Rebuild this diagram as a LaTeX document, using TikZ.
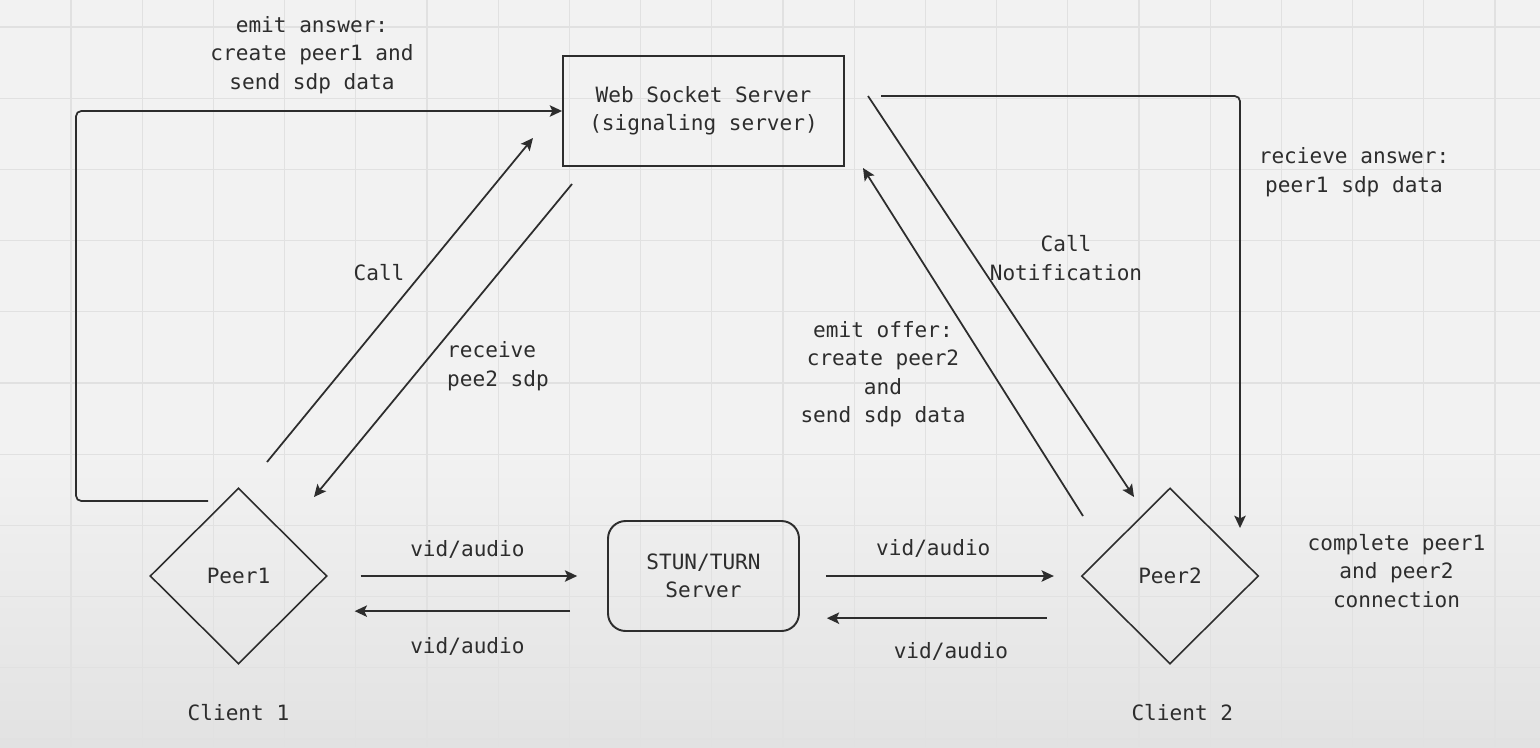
\documentclass[tikz,border=0pt]{standalone}
\usepackage{fontspec}
\newfontfamily\diagfont{DejaVu Sans Mono}
\usetikzlibrary{arrows.meta, positioning, shapes.geometric}
\def\gridstep{71.2}
\definecolor{bgtop}{RGB}{242,242,242}
\definecolor{bgbot}{RGB}{226,226,226}
\definecolor{gridcol}{RGB}{225,225,225}
\definecolor{inkcol}{RGB}{45,45,45}

\begin{document}
\begin{tikzpicture}[x=0.02cm, y=-0.02cm, >=Stealth]

  \tikzset{
    lbl/.style = {
      font=\diagfont\fontsize{12}{16.2}\selectfont, text=inkcol, align=center
    },
    serverbox/.style = {
      lbl, rectangle, draw=inkcol, line width=1.1pt,
      minimum width=5.62cm, minimum height=2.2cm
    },
    relaybox/.style = {
      serverbox, rounded corners=10pt,
      minimum width=3.82cm
    },
    peernode/.style = {
      lbl, diamond, draw=inkcol, line width=0.9pt, inner sep=0pt,
      minimum width=3.54cm, minimum height=3.52cm
    },
    flow/.style = {
      -{Stealth[length=7pt, width=6.5pt, inset=1.5pt]}, line width=1pt, draw=inkcol
    },
    gridline/.style = {
      draw=gridcol, line width=0.6pt
    }
  }

  % --- Canvas and grid --------------------------------------------------------
  \useasboundingbox (0,0) rectangle (1540,747);
  \fill [bgtop] (0,0) rectangle (1540,747);
  \shade [top color=bgtop, bottom color=bgbot] (0,450) rectangle (1540,747);
  \foreach \i in {0,...,20}
    \draw [gridline] (71+\i*\gridstep,0) -- (71+\i*\gridstep,747);
  \foreach \j in {0,...,10}
    \draw [gridline] (0,27+\j*\gridstep) -- (1540,27+\j*\gridstep);

  % --- Servers and peers ------------------------------------------------------
  \node (ws)    [serverbox] at (703.5,111) {Web Socket Server\\(signaling server)};
  \node (stun)  [relaybox]  at (703.5,576) {STUN/TURN\\Server};
  \node (peer1) [peernode]  at (238.5,576) {Peer1};
  \node (peer2) [peernode]  at (1170,576)  {Peer2};

  \node (client1) [lbl, below=19pt of peer1] {Client 1};
  \node (client2) [lbl, below=19pt of peer2, xshift=7pt] {Client 2};
  \node (done)    [lbl, right=24pt of peer2, yshift=3pt]
    {complete peer1\\and peer2\\connection};

  % --- Free ends of the signaling connectors ----------------------------------
  \coordinate (ansS)   at (208,501);
  \coordinate (callS)  at (267,462);
  \coordinate (callE)  at (533,138);
  \coordinate (recvS)  at (572,184);
  \coordinate (recvE)  at (314,497);
  \coordinate (notifS) at (868,96);
  \coordinate (notifE) at (1134,497);
  \coordinate (offerS) at (1083,516);
  \coordinate (offerE) at (863,168);
  \coordinate (ans2S)  at (881,96);
  \coordinate (ans2E)  at (1240,528);

  % --- Signaling edges --------------------------------------------------------
  \draw [flow, rounded corners=3pt] (ansS) -- (76,501) |- (ws.west);
  \draw [flow] (callS)  -- (callE);
  \draw [flow] (recvS)  -- (recvE);
  \draw [flow] (notifS) -- (notifE);
  \draw [flow] (offerS) -- (offerE);
  \draw [flow, rounded corners=3pt] (ans2S) -| (ans2E);

  \node (ansLbl)   [lbl] at (312,55)   {emit answer:\\create peer1 and\\send sdp data};
  \node (callLbl)  [lbl] at (379,273)  {Call};
  \node (recvLbl)  [lbl, align=left] at (498,366) {receive\\pee2 sdp};
  \node (notifLbl) [lbl] at (1066,258) {Call\\Notification};
  \node (offerLbl) [lbl] at (883,374)  {emit offer:\\create peer2\\and\\send sdp data};
  \node (ans2Lbl)  [lbl] at (1354,172) {recieve answer:\\peer1 sdp data};

  % --- Media edges through the relay -------------------------------------------
  \draw [flow, shorten <=18.7pt, shorten >=17pt] (peer1.east) -- (stun.west)
    node [lbl, midway, above=6pt] {vid/audio};
  \draw [flow, shorten <=21pt, shorten >=15.3pt]
    ([yshift=-20pt]stun.west) -- ([yshift=-20pt]peer1.east)
    node [lbl, midway, below=11pt] {vid/audio};
  \draw [flow, shorten <=14.7pt, shorten >=15.3pt] (stun.east) -- (peer2.west)
    node [lbl, midway, above=6.5pt, xshift=-4pt] {vid/audio};
  \draw [flow, shorten <=19.3pt, shorten >=15.3pt]
    ([yshift=-24pt]peer2.west) -- ([yshift=-24pt]stun.east)
    node [lbl, midway, below=10pt, xshift=6pt] {vid/audio};

\end{tikzpicture}
\end{document}
